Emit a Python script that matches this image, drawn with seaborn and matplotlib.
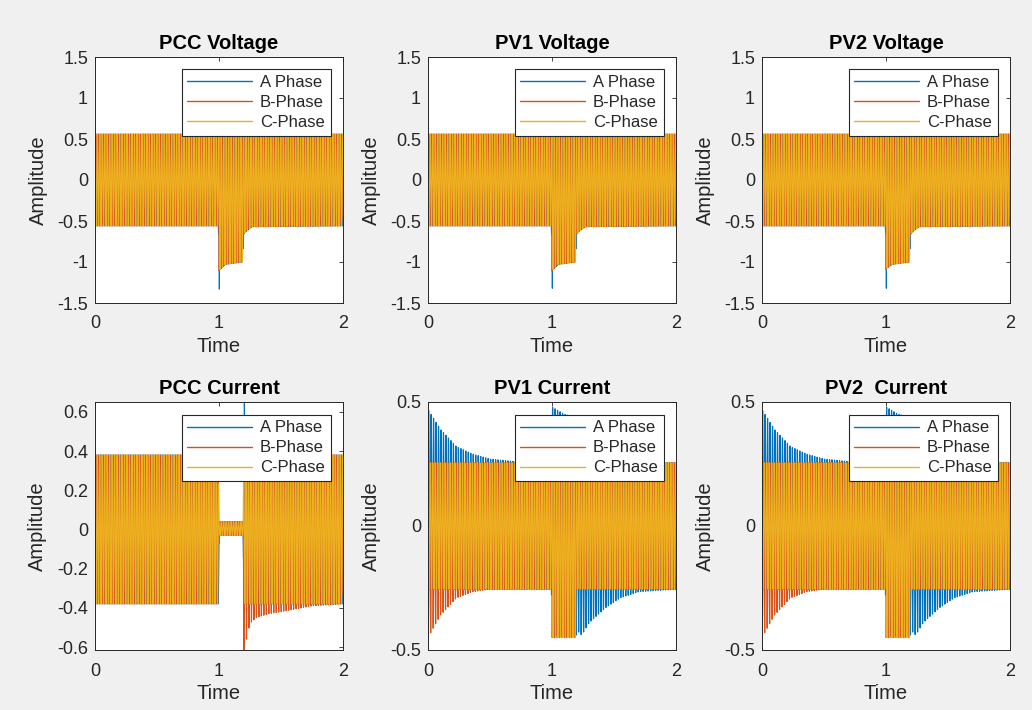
import numpy as np
import pandas as pd
import matplotlib
matplotlib.use("Agg")
import matplotlib.pyplot as plt
from matplotlib.lines import Line2D
import seaborn as sns

# ---------------- data ----------------
phase_names = ["A Phase", "B-Phase", "C-Phase"]
phase_colors = ["#0072BD", "#D95319", "#EDB120"]
panel_titles = ["PCC Voltage", "PV1 Voltage", "PV2 Voltage",
                "PCC Current", "PV1 Current", "PV2  Current"]
x_ticks = [0, 1, 2]
volt_yticks = [-1.5, -1, -0.5, 0, 0.5, 1, 1.5]
volt_ylim = [-1.5, 1.5]
pcc_cur_yticks = [-0.6, -0.4, -0.2, 0, 0.2, 0.4, 0.6]
pcc_cur_ylim = [-0.615, 0.65]
pv_cur_yticks = [-0.5, 0, 0.5]
pv_cur_ylim = [-0.5, 0.5]
grid_freq_hz = 50
time_step = 1 / 4000
time_end = 2.0

# Voltage envelopes (time knots, upper / lower envelope per phase)
volt_knots = [0.0, 0.995, 1.0, 1.004, 1.05, 1.19, 1.2, 1.23, 1.27, 2.0]
volt_upper = [0.56, 0.56, 0.56, 0.56, 0.56, 0.56, 0.56, 0.56, 0.56, 0.56]
pcc_v_lower = [-0.56, -0.56, -1.12, -1.1, -1.03, -1.0, -0.66, -0.61, -0.57, -0.56]
pv1_v_lower = [-0.56, -0.56, -1.12, -1.1, -1.03, -1.0, -0.66, -0.61, -0.57, -0.56]
pv2_v_lower = [-0.56, -0.56, -1.1, -1.08, -1.03, -1.0, -0.66, -0.61, -0.57, -0.56]
pcc_v_spike = [1.003, -1.33]
pv1_v_spike = [1.003, -1.32]
pv2_v_spike = [1.003, -1.32]

# PCC current envelopes
pcc_i_knots = [0.0, 0.995, 1.0, 1.195, 1.2, 1.25, 1.3, 1.4, 1.5, 1.75, 2.0]
pcc_i_upper = [0.38, 0.38, 0.04, 0.04, 0.38, 0.38, 0.38, 0.38, 0.38, 0.38, 0.38]
pcc_i_lower_AC = [-0.38, -0.38, -0.03, -0.03, -0.38, -0.38, -0.38, -0.38, -0.38, -0.38, -0.38]
pcc_i_lower_B = [-0.38, -0.38, -0.03, -0.03, -0.62, -0.48, -0.45, -0.43, -0.42, -0.39, -0.38]
pcc_i_spike = [1.205, 0.66]

# PV current envelopes
pv_i_knots = [0.0, 0.1, 0.23, 0.36, 0.5, 0.7, 0.995, 1.0, 1.1, 1.195, 1.2, 1.24,
              1.3, 1.43, 1.55, 1.7, 2.0]
pv_i_upper_A = [0.47, 0.39, 0.32, 0.29, 0.27, 0.26, 0.255, 0.48, 0.45, 0.44, 0.255, 0.255,
                0.255, 0.255, 0.255, 0.255, 0.255]
pv_i_lower_A = [-0.255, -0.255, -0.255, -0.255, -0.255, -0.255, -0.255, -0.44, -0.44, -0.44,
                -0.42, -0.44, -0.39, -0.33, -0.29, -0.265, -0.255]
pv_i_upper_BC = [0.255, 0.255, 0.255, 0.255, 0.255, 0.255, 0.255, 0.255, 0.255, 0.255, 0.255,
                 0.255, 0.255, 0.255, 0.255, 0.255, 0.255]
pv_i_lower_B = [-0.45, -0.36, -0.29, -0.265, -0.255, -0.255, -0.255, -0.45, -0.45, -0.45,
                -0.255, -0.255, -0.255, -0.255, -0.255, -0.255, -0.255]
pv_i_lower_C = [-0.255, -0.255, -0.255, -0.255, -0.255, -0.255, -0.255, -0.45, -0.45, -0.45,
                -0.255, -0.255, -0.255, -0.255, -0.255, -0.255, -0.255]

phase_shift_deg = [0, -120, 120]


def phase_wave(knots, upper, lower, shift_deg, spike=None):
    t = np.arange(0, time_end + time_step / 2, time_step)
    up = np.interp(t, knots, upper)
    lo = np.interp(t, knots, lower)
    carrier = np.sin(2 * np.pi * grid_freq_hz * t + np.deg2rad(shift_deg))
    y = (up + lo) / 2 + (up - lo) / 2 * carrier
    if spike is not None:
        i = int(round(spike[0] / time_step))
        y[i] = spike[1]
    return t, y


def panel_frame(specs):
    frames = []
    for name, shift, (knots, up, lo, spike) in zip(phase_names, phase_shift_deg, specs):
        t, y = phase_wave(knots, up, lo, shift, spike)
        frames.append(pd.DataFrame({"Time": t, "Amplitude": y, "phase": name}))
    return pd.concat(frames, ignore_index=True)


panels = [
    panel_frame([(volt_knots, volt_upper, pcc_v_lower, pcc_v_spike),
                 (volt_knots, volt_upper, pcc_v_lower, None),
                 (volt_knots, volt_upper, pcc_v_lower, None)]),
    panel_frame([(volt_knots, volt_upper, pv1_v_lower, pv1_v_spike),
                 (volt_knots, volt_upper, pv1_v_lower, None),
                 (volt_knots, volt_upper, pv1_v_lower, None)]),
    panel_frame([(volt_knots, volt_upper, pv2_v_lower, pv2_v_spike),
                 (volt_knots, volt_upper, pv2_v_lower, None),
                 (volt_knots, volt_upper, pv2_v_lower, None)]),
    panel_frame([(pcc_i_knots, pcc_i_upper, pcc_i_lower_AC, pcc_i_spike),
                 (pcc_i_knots, pcc_i_upper, pcc_i_lower_B, None),
                 (pcc_i_knots, pcc_i_upper, pcc_i_lower_AC, None)]),
    panel_frame([(pv_i_knots, pv_i_upper_A, pv_i_lower_A, None),
                 (pv_i_knots, pv_i_upper_BC, pv_i_lower_B, None),
                 (pv_i_knots, pv_i_upper_BC, pv_i_lower_C, None)]),
    panel_frame([(pv_i_knots, pv_i_upper_A, pv_i_lower_A, None),
                 (pv_i_knots, pv_i_upper_BC, pv_i_lower_B, None),
                 (pv_i_knots, pv_i_upper_BC, pv_i_lower_C, None)]),
]
panel_yticks = [volt_yticks] * 3 + [pcc_cur_yticks, pv_cur_yticks, pv_cur_yticks]
panel_ylims = [volt_ylim] * 3 + [pcc_cur_ylim, pv_cur_ylim, pv_cur_ylim]

# ---------------- drawing ----------------
sns.set_theme(style="white")
plt.rcParams["font.family"] = ["Liberation Sans", "DejaVu Sans"]
ink = "#262626"

W, H = 1032, 710
fig = plt.figure(figsize=(W / 100, H / 100), dpi=100)
fig.patch.set_facecolor("#f0f0f0")

lefts = [95, 428, 762]
rows = [(57, 303), (402, 650)]
ax_w = 248


def tick_fmt(v):
    return "%g" % v


for k, df in enumerate(panels):
    r, c = divmod(k, 3)
    top, bot = rows[r]
    ax = fig.add_axes([lefts[c] / W, 1 - bot / H, ax_w / W, (bot - top) / H])
    ax.set_facecolor("white")
    sns.lineplot(data=df, x="Time", y="Amplitude", hue="phase",
                 hue_order=phase_names, palette=phase_colors,
                 estimator=None, sort=False, linewidth=0.85, legend=False, ax=ax)
    ax.set_xlim(0, 2)
    ax.set_ylim(*panel_ylims[k])
    ax.set_xticks(x_ticks)
    ax.set_xticklabels([tick_fmt(v) for v in x_ticks])
    ax.set_yticks(panel_yticks[k])
    ax.set_yticklabels([tick_fmt(v) for v in panel_yticks[k]])
    ax.tick_params(direction="in", length=3, width=0.6, colors=ink,
                   labelsize=13, top=True, right=True)
    ax.tick_params(axis="x", pad=9)
    ax.tick_params(axis="y", pad=5)
    for s in ax.spines.values():
        s.set_color(ink)
        s.set_linewidth(0.7)
    ax.set_xlabel("Time", fontsize=14.5, color=ink, labelpad=3)
    ax.set_ylabel("Amplitude", fontsize=14.5, color=ink, labelpad=7)
    ax.set_title(panel_titles[k], fontsize=14.5, fontweight="bold", color="black", pad=6)
    handles = [Line2D([0], [0], color=col, lw=1.0) for col in phase_colors]
    leg = ax.legend(handles, phase_names, loc="upper right", fontsize=12,
                    frameon=True, fancybox=False, framealpha=1, edgecolor=ink,
                    handlelength=3.9, handletextpad=0.45, borderpad=0.35,
                    labelspacing=0.3, borderaxespad=0.75, alignment="right")
    leg.get_frame().set_linewidth(0.8)
    for txt in leg.get_texts():
        txt.set_color(ink)

fig.savefig("out.png", dpi=100, facecolor=fig.get_facecolor())
